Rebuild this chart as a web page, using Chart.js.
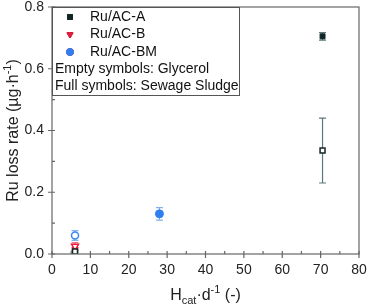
<!DOCTYPE html>
<html>
<head>
<meta charset="utf-8">
<script src="https://cdn.jsdelivr.net/npm/chart.js@4/dist/chart.umd.min.js"></script>
<style>
	html, body { margin: 0; padding: 0; background: #fff; }
	#wrap { width: 368px; height: 306px; }
</style>
</head>
<body>
<div id="wrap"><canvas id="ru-loss"></canvas></div>
<script>
// values
const xTicks = [0, 10, 20, 30, 40, 50, 60, 70, 80]
const yTicks = [0.0, 0.2, 0.4, 0.6, 0.8]

const aFullX = [70.5]
const aFullY = [0.705]
const aFullErr = [0.012]

const aEmptyX = [6, 70.5]
const aEmptyY = [0.008, 0.335]
const aEmptyErr = [0.004, 0.105]

const bEmptyX = [6]
const bEmptyY = [0.025]
const bEmptyErr = [0.012]

const bFullX = [6]
const bFullY = [0.015]
const bFullErr = [0.005]

const bmEmptyX = [6]
const bmEmptyY = [0.06]
const bmEmptyErr = [0.016]

const bmFullX = [28]
const bmFullY = [0.13]
const bmFullErr = [0.02]

const font = "'Liberation Sans', Arial, sans-serif"

function pts(xs, ys) {
	return xs.map((x, i) => ({ x: x, y: ys[i] }))
}

const errorBars = {
	id: "errorBars",
	beforeDatasetsDraw(chart) {
		const ctx = chart.ctx
		const xs = chart.scales.x
		const ys = chart.scales.y
		chart.data.datasets.forEach(ds => {
			ctx.save()
			ctx.strokeStyle = ds.errColor
			ctx.lineWidth = 1.2
			ds.data.forEach((p, i) => {
				const e = ds.errs[i]
				const px = xs.getPixelForValue(p.x)
				const top = ys.getPixelForValue(p.y + e)
				const bot = ys.getPixelForValue(Math.max(0, p.y - e))
				ctx.beginPath()
				ctx.moveTo(px, top)
				ctx.lineTo(px, bot)
				ctx.moveTo(px - 3.5, top)
				ctx.lineTo(px + 3.5, top)
				ctx.moveTo(px - 3.5, bot)
				ctx.lineTo(px + 3.5, bot)
				ctx.stroke()
			})
			ctx.restore()
		})
	}
}

const decorations = {
	id: "decorations",
	afterDraw(chart) {
		const ctx = chart.ctx
		const a = chart.chartArea
		const xs = chart.scales.x
		const ys = chart.scales.y
		ctx.save()
		// frame
		ctx.strokeStyle = "#666"
		ctx.lineWidth = 1.2
		ctx.strokeRect(a.left, a.top, a.right - a.left, a.bottom - a.top)
		// major ticks cross the axis, minor ones point inward
		ctx.beginPath()
		for (let v = 0; v <= 80; v += 5) {
			const px = xs.getPixelForValue(v)
			const major = v % 10 === 0
			ctx.moveTo(px, a.bottom + (major ? 4 : 0))
			ctx.lineTo(px, a.bottom - 3)
		}
		for (let k = 0; k <= 8; k++) {
			const py = ys.getPixelForValue(k / 10)
			const major = k % 2 === 0
			ctx.moveTo(a.left - (major ? 4 : 0), py)
			ctx.lineTo(a.left + 3, py)
		}
		ctx.stroke()

		// legend box
		const lx = a.left
		const ly = a.top
		ctx.fillStyle = "#fff"
		ctx.fillRect(lx, ly, 187, 88)
		ctx.strokeStyle = "#555"
		ctx.lineWidth = 1
		ctx.strokeRect(lx + 0.5, ly + 0.5, 187, 88)
		ctx.font = "14px " + font
		ctx.fillStyle = "#111"
		ctx.textBaseline = "middle"
		ctx.textAlign = "left"
		const rows = [
			{ text: "Ru/AC-A", ds: 0 },
			{ text: "Ru/AC-B", ds: 3 },
			{ text: "Ru/AC-BM", ds: 5 }
		]
		rows.forEach((r, i) => {
			const yy = ly + 10 + i * 17.5
			const d = chart.data.datasets[r.ds]
			Chart.helpers.drawPoint(ctx, {
				pointStyle: d.pointStyle,
				radius: 3.5,
				rotation: d.rotation || 0,
				borderWidth: 1
			}, lx + 18, yy)
			ctx.fillStyle = d.backgroundColor
			ctx.strokeStyle = d.borderColor
			ctx.fill()
			ctx.stroke()
			ctx.fillStyle = "#111"
			ctx.fillText(r.text, lx + 38, yy)
		})
		ctx.fillText("Empty symbols: Glycerol", lx + 3, ly + 62)
		ctx.fillText("Full symbols: Sewage Sludge", lx + 3, ly + 79)

		// x title with subscript and superscript
		const cx = (a.left + a.right) / 2
		const ty = 300
		ctx.fillStyle = "#222"
		ctx.textBaseline = "alphabetic"
		const parts = [
			{ t: "H", size: 16, dy: 0 },
			{ t: "cat", size: 11, dy: 4 },
			{ t: "·d", size: 16, dy: 0 },
			{ t: "-1", size: 11, dy: -7 },
			{ t: " (-)", size: 16, dy: 0 }
		]
		let total = 0
		parts.forEach(p => {
			ctx.font = p.size + "px " + font
			total += ctx.measureText(p.t).width
		})
		let x = cx - total / 2
		parts.forEach(p => {
			ctx.font = p.size + "px " + font
			ctx.fillText(p.t, x, ty + p.dy)
			x += ctx.measureText(p.t).width
		})

		// y title, rotated
		ctx.translate(18, (a.top + a.bottom) / 2)
		ctx.rotate(-Math.PI / 2)
		const yparts = [
			{ t: "Ru loss rate (µg·h", size: 16, dy: 0 },
			{ t: "-1", size: 11, dy: -7 },
			{ t: ")", size: 16, dy: 0 }
		]
		total = 0
		yparts.forEach(p => {
			ctx.font = p.size + "px " + font
			total += ctx.measureText(p.t).width
		})
		x = -total / 2
		yparts.forEach(p => {
			ctx.font = p.size + "px " + font
			ctx.fillText(p.t, x, p.dy)
			x += ctx.measureText(p.t).width
		})
		ctx.restore()
	}
}

new Chart(document.getElementById("ru-loss").getContext("2d"), {
	type: "scatter",
	data: {
		datasets: [
			{
				label: "Ru/AC-A",
				data: pts(aFullX, aFullY),
				errs: aFullErr,
				errColor: "#5a7878",
				pointStyle: "rect",
				radius: 3.5,
				backgroundColor: "#132626",
				borderColor: "#132626",
				borderWidth: 1
			},
			{
				label: "Ru/AC-A glycerol",
				data: pts(aEmptyX, aEmptyY),
				errs: aEmptyErr,
				errColor: "#5a7878",
				pointStyle: "rect",
				radius: 3.5,
				backgroundColor: "#ffffff",
				borderColor: "#132626",
				borderWidth: 1.5
			},
			{
				label: "Ru/AC-B glycerol",
				data: pts(bEmptyX, bEmptyY),
				errs: bEmptyErr,
				errColor: "#f0708a",
				pointStyle: "triangle",
				rotation: 180,
				radius: 4,
				backgroundColor: "#ffffff",
				borderColor: "#f0193c",
				borderWidth: 1.5
			},
			{
				label: "Ru/AC-B",
				data: pts(bFullX, bFullY),
				errs: bFullErr,
				errColor: "#f0708a",
				pointStyle: "triangle",
				rotation: 180,
				radius: 3.5,
				backgroundColor: "#f0193c",
				borderColor: "#f0193c",
				borderWidth: 1
			},
			{
				label: "Ru/AC-BM glycerol",
				data: pts(bmEmptyX, bmEmptyY),
				errs: bmEmptyErr,
				errColor: "#7fb0f0",
				pointStyle: "circle",
				radius: 3.5,
				backgroundColor: "#ffffff",
				borderColor: "#3b87f0",
				borderWidth: 1.5
			},
			{
				label: "Ru/AC-BM",
				data: pts(bmFullX, bmFullY),
				errs: bmFullErr,
				errColor: "#7fb0f0",
				pointStyle: "circle",
				radius: 4,
				backgroundColor: "#2f7ff0",
				borderColor: "#2f7ff0",
				borderWidth: 1
			}
		]
	},
	options: {
		responsive: true,
		maintainAspectRatio: false,
		animation: false,
		layout: {
			padding: { left: 19, right: 9, top: 7, bottom: 22 }
		},
		scales: {
			x: {
				type: "linear",
				min: 0,
				max: 80,
				afterBuildTicks: axis => { axis.ticks = xTicks.map(v => ({ value: v })) },
				afterFit: axis => {
					axis.height = 30
					axis.paddingLeft = 0
					axis.paddingRight = 0
				},
				ticks: {
					color: "#222",
					font: { family: font, size: 14 },
					padding: 8
				},
				grid: { display: false, drawTicks: false },
				border: { display: false }
			},
			y: {
				type: "linear",
				min: 0,
				max: 0.8,
				afterBuildTicks: axis => { axis.ticks = yTicks.map(v => ({ value: v })) },
				afterFit: axis => {
					axis.width = 33
					axis.paddingTop = 0
					axis.paddingBottom = 0
				},
				ticks: {
					color: "#222",
					font: { family: font, size: 14 },
					padding: 8,
					callback: v => v.toFixed(1)
				},
				grid: { display: false, drawTicks: false },
				border: { display: false }
			}
		},
		plugins: {
			legend: { display: false },
			tooltip: { enabled: false }
		}
	},
	plugins: [errorBars, decorations]
})
</script>
</body>
</html>
